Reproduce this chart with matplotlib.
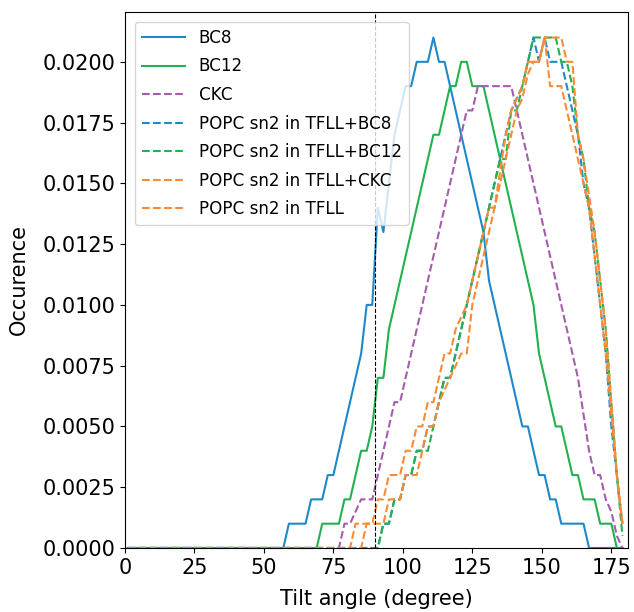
import matplotlib
matplotlib.use("Agg")
import matplotlib.pyplot as plt
import numpy as np

# tilt angle bin centres (degree)
angles = list(range(1, 181, 2))

# occurence values in units of 0.001, one per bin up to 179
bc8 = [0]*28 + [0, 1, 1, 1, 1, 2, 2, 2, 3, 3, 4, 5, 6, 7, 8, 10, 10, 14, 13, 15,
                17, 18, 19, 19, 20, 20, 20, 21, 20, 20, 19, 18, 17, 16, 15, 14, 13, 11, 10, 9,
                8, 7, 6, 5, 5, 4, 3, 3, 2, 2, 1, 1, 1, 1, 1, 0, 0, 0, 0, 0, 0, 0]
bc12 = [0]*34 + [0, 1, 1, 1, 1, 2, 2, 3, 4, 4, 5, 7, 7, 9, 10, 11, 12, 13, 14, 15,
                 16, 17, 17, 18, 19, 19, 20, 20, 19, 19, 19, 18, 17, 16, 15, 14, 13, 12, 11, 10,
                 8, 7, 6, 5, 5, 4, 3, 3, 2, 2, 2, 1, 1, 1, 0, 0]
ckc = [0]*38 + [0, 1, 1, 1.5, 2, 2, 2, 3, 4, 5, 6, 6, 7, 8, 9, 10, 11, 12, 13, 14,
                15, 16, 17, 18, 18, 19, 19, 19, 19, 19, 19, 19, 18, 17, 16, 15, 14, 13, 12, 11,
                10, 9, 8, 7, 5.5, 4, 3, 3, 2, 1.5, 0.5, 0]
popc_bc8 = [0]*45 + [0, 1, 1, 2, 2, 3, 3, 4, 4, 5, 5, 6, 7, 7, 8, 9, 10, 11, 12, 13,
                     14, 15, 16, 17, 18, 18.5, 19, 20, 21, 20, 21, 20, 20, 20, 19, 18, 17, 15, 14, 12,
                     10, 8, 5, 3, 1]
popc_bc12 = [0]*45 + [0, 1, 1, 2, 2, 3, 3, 4, 4, 4, 5, 6, 7, 7, 8, 9, 10, 11, 12, 13,
                      14, 15, 16, 16, 18, 18, 19, 20, 21, 21, 21, 21, 21, 20, 20, 19, 17, 16, 14, 13,
                      11, 9, 6, 3, 0.5]
popc_ckc = [0]*40 + [0, 1, 1, 1, 1, 2, 2, 3, 3, 3, 4, 4, 5, 5, 6, 6, 7, 8, 8, 9,
                     9.5, 10, 11, 12, 13, 14, 14, 15.5, 17, 18, 18.5, 19, 20, 20, 20, 21, 21, 21, 21, 20,
                     20, 17, 16, 14.5, 13, 11, 9, 6, 3, 1]
popc_tfll = [0]*42 + [0, 1, 1, 1, 1, 2, 2, 2, 3, 3, 3, 4, 5, 5, 6, 6.5, 7, 7.5, 8, 8,
                      10, 11, 12, 13, 14, 15, 16, 17, 18, 18.5, 19.5, 20, 20, 21, 19, 19, 19, 18, 17, 16,
                      15, 14, 12, 10, 8, 5.5, 3, 1]

labels = ["BC8", "BC12", "CKC", "POPC sn2 in TFLL+BC8", "POPC sn2 in TFLL+BC12",
          "POPC sn2 in TFLL+CKC", "POPC sn2 in TFLL"]
series = [bc8, bc12, ckc, popc_bc8, popc_bc12, popc_ckc, popc_tfll]
colors = ["#1f88c9", "#21b14f", "#a65cad", "#1f88c9", "#21b14f", "#fa8a34", "#fa8a34"]
styles = ["-", "-", "--", "--", "--", "--", "--"]

fig = plt.figure(figsize=(6.34, 6.12), dpi=100)
ax = fig.add_axes([0.197, 0.1046, 0.7935, 0.8758])

for lab, vals, c, ls in zip(labels, series, colors, styles):
    y = np.array(vals, dtype=float) / 1000.0
    ax.plot(angles[:len(y)], y, color=c, linestyle=ls, linewidth=1.5, label=lab)

ax.axvline(90, color="k", linestyle="--", linewidth=0.8)

ax.set_xlim(0, 181)
ax.set_ylim(0, 0.02205)
ax.set_xticks([0, 25, 50, 75, 100, 125, 150, 175])
ax.set_yticks(np.arange(0, 0.0201, 0.0025))
ax.yaxis.set_major_formatter(matplotlib.ticker.FormatStrFormatter("%.4f"))
ax.tick_params(labelsize=15)
ax.set_xlabel("Tilt angle (degree)", fontsize=15, labelpad=8)
ax.set_ylabel("Occurence", fontsize=15, labelpad=10)
ax.legend(loc="upper left", fontsize=12.1, handlelength=2.6, labelspacing=0.63,
          borderaxespad=0.6)

fig.savefig("out.png", dpi=100)
